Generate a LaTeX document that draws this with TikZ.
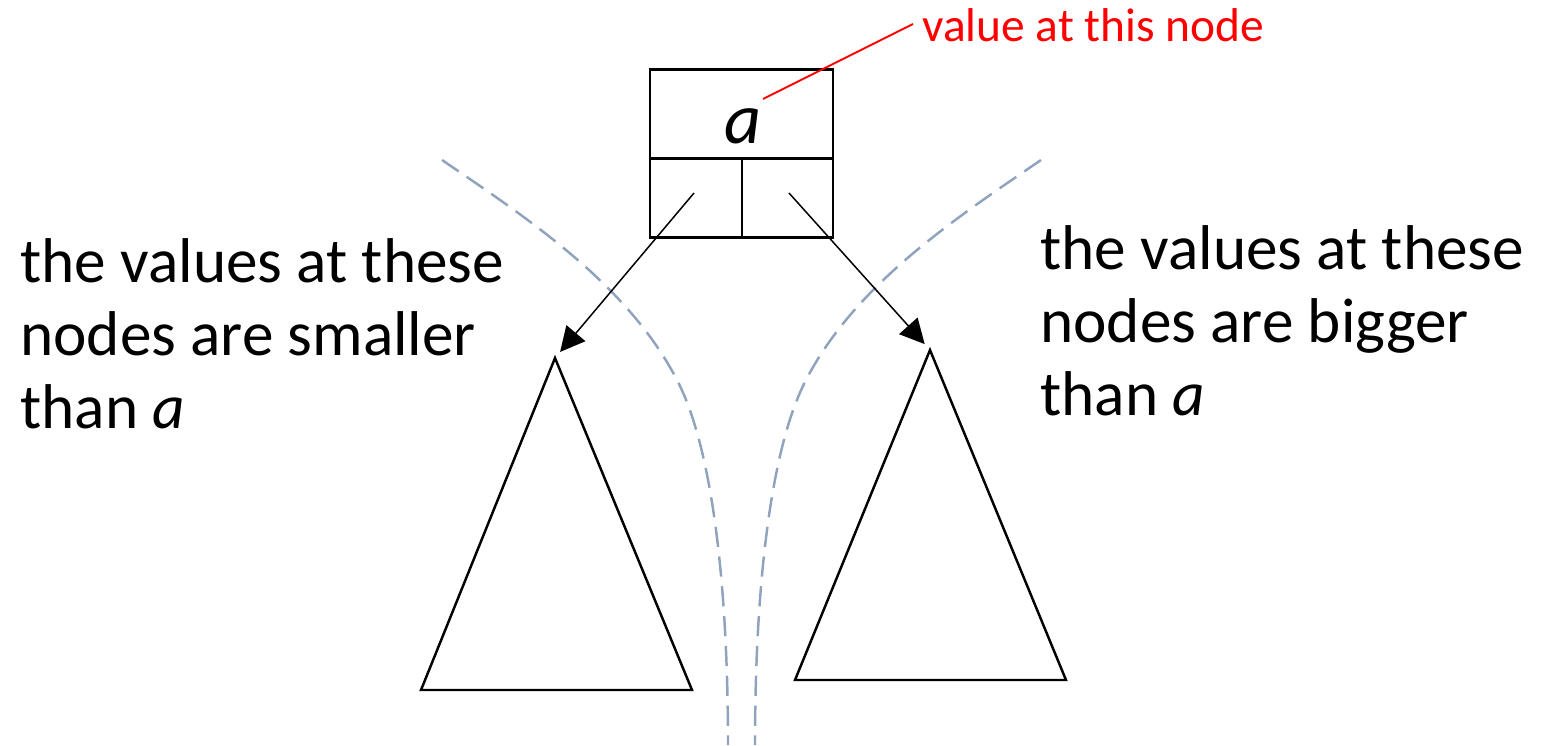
\documentclass[tikz,border=0pt]{standalone}
\usepackage{fontspec}
\setmainfont{Carlito}
\usetikzlibrary{arrows.meta}
\definecolor{splitgray}{RGB}{143,163,189}
\tikzset{
	bigtxt/.style={font=\fontsize{36}{41.5}\selectfont, align=left, inner sep=0pt, anchor=base west},
	split/.style={splitgray, line width=1.4pt, dash pattern=on 11.5pt off 5.5pt},
	subtree/.style={line width=1.4pt, line join=miter},
	ptr/.style={->, line width=.85pt, shorten >=4.5pt}
}
\begin{document}
\begin{tikzpicture}[x=.02cm, y=-.02cm, line join=round, >={Triangle[length=14pt,width=14pt]}]
	\useasboundingbox (0,0) rectangle (1543,745);
	% the node: value on top, two pointers below
	\draw[line width=1.7pt, line join=miter] (650,69) rectangle (833,237)
	(650,158)--(833,158) (742,158)--(742,237)
	;
	\node[font=\fontsize{41}{48}\selectfont\itshape, anchor=base, inner sep=0pt] (val) at (743,143) {a};
	\coordinate (aval) at (763,99);
	\coordinate (notept) at (913,24);
	\node[font=\fontsize{27}{32}\selectfont, red, anchor=base west, inner sep=0pt] (note) at (922,41) {value at this node};
	\draw[red, line width=1.1pt] (aval)--(notept);
	% dashed splits
	\draw[split] (442,160) .. controls (530,220) and (628,285) .. (677,380)
	.. controls (714,451) and (728,595) .. (728,745);
	\draw[split] (1041,160) .. controls (953,220) and (855,285) .. (806,380)
	.. controls (769,451) and (755,595) .. (755,745);
	% subtrees
	\coordinate (ltop) at (555,358);
	\coordinate (rtop) at (930,350);
	\draw[subtree] (ltop)--(692,690)--(421,690)--cycle;
	\draw[subtree] (rtop)--(1066,680)--(795,680)--cycle;
	\coordinate (lptr) at (694,193);
	\coordinate (rptr) at (789,193);
	\draw[ptr] (lptr)--(ltop);
	\draw[ptr] (rptr)--(rtop);
	% captions (base = last line)
	\node[bigtxt] (small) at (20,428) {the values at these\\nodes are smaller\\than \textit{a}};
	\node[bigtxt] (big) at (1040,415) {the values at these\\nodes are bigger\\than \textit{a}};
\end{tikzpicture}
\end{document}
